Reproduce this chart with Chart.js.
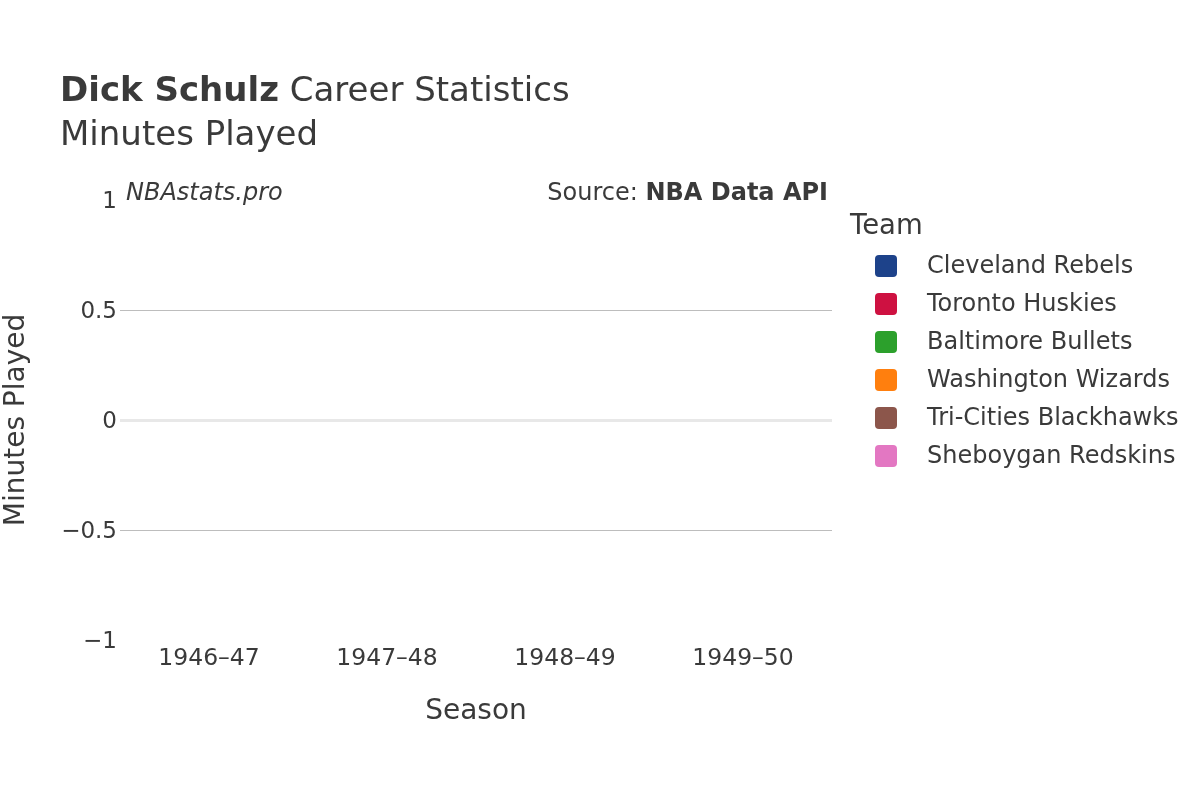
<!DOCTYPE html>
<html>
<head>
<meta charset="utf-8">
<script src="https://cdn.jsdelivr.net/npm/chart.js@4"></script>
<style>
  html, body { margin: 0; padding: 0; background: #fff; }
  #wrap { width: 1200px; height: 800px; }
</style>
</head>
<body>
<div id="wrap"><canvas id="c" width="1200" height="800"></canvas></div>
<script>
const seasons = ["1946\u201347", "1947\u201348", "1948\u201349", "1949\u201350"];
const teams = ["Cleveland Rebels", "Toronto Huskies", "Baltimore Bullets", "Washington Wizards", "Tri-Cities Blackhawks", "Sheboygan Redskins"];
const teamColors = ["#1d428a", "#ce1141", "#2ca02c", "#ff7f0e", "#8c564b", "#e377c2"];
const clevelandRebels = [0, null, null, null];
const torontoHuskies = [0, null, null, null];
const baltimoreBullets = [null, 0, null, null];
const washingtonWizards = [null, null, 0, null];
const triCitiesBlackhawks = [null, null, null, 0];
const sheboyganRedskins = [null, null, null, 0];
const seriesValues = [clevelandRebels, torontoHuskies, baltimoreBullets, washingtonWizards, triCitiesBlackhawks, sheboyganRedskins];
const yTicks = [-1, -0.5, 0, 0.5, 1];

const FONT = "'DejaVu Sans', sans-serif";
const TXT = "#3a3a3a";

const textPlugin = {
  id: 'texts',
  afterDraw(chart) {
    const ctx = chart.ctx;
    const area = chart.chartArea;
    ctx.save();
    ctx.fillStyle = TXT;
    ctx.textBaseline = 'alphabetic';
    ctx.textAlign = 'left';
    // Title
    ctx.font = "bold 34px " + FONT;
    const t1 = "Dick Schulz";
    ctx.fillText(t1, 60, 101);
    const w1 = ctx.measureText(t1).width;
    ctx.font = "34px " + FONT;
    ctx.fillText(" Career Statistics", 60 + w1, 101);
    ctx.fillText("Minutes Played", 60, 145);
    // watermark
    ctx.font = "italic 24px " + FONT;
    ctx.fillText("NBAstats.pro", 126, 200);
    // source
    ctx.textAlign = 'right';
    ctx.font = "bold 24px " + FONT;
    const sb = "NBA Data API";
    ctx.fillText(sb, 828, 200);
    const wsb = ctx.measureText(sb).width;
    ctx.font = "24px " + FONT;
    ctx.fillText("Source: ", 828 - wsb, 200);
    // axis titles
    ctx.textAlign = 'center';
    ctx.textBaseline = 'middle';
    ctx.font = "28px " + FONT;
    ctx.fillText("Season", (area.left + area.right) / 2, 712);
    ctx.save();
    ctx.translate(17, (area.top + area.bottom) / 2);
    ctx.rotate(-Math.PI / 2);
    ctx.fillText("Minutes Played", 0, 0);
    ctx.restore();
    // legend
    ctx.textAlign = 'left';
    ctx.textBaseline = 'middle';
    ctx.font = "27.5px " + FONT;
    ctx.fillText("Team", 850, 227);
    ctx.font = "24px " + FONT;
    chart.data.datasets.forEach((ds, i) => {
      const y = 266 + i * 38;
      ctx.fillStyle = ds.backgroundColor;
      ctx.beginPath();
      ctx.roundRect(875, y - 11, 22, 22, 4);
      ctx.fill();
      ctx.fillStyle = TXT;
      ctx.fillText(ds.label, 927, y + 1);
    });
    ctx.restore();
  }
};

new Chart(document.getElementById('c'), {
  type: 'bar',
  data: {
    labels: seasons,
    datasets: teams.map((t, i) => ({
      label: t,
      data: seriesValues[i],
      backgroundColor: teamColors[i],
      borderWidth: 0,
      skipNull: true
    }))
  },
  options: {
    responsive: false,
    animation: false,
    devicePixelRatio: 1,
    layout: { padding: { left: 0, right: 368, top: 200, bottom: 120 } },
    plugins: { legend: { display: false }, tooltip: { enabled: false }, title: { display: false } },
    scales: {
      x: {
        grid: { display: false, drawTicks: false },
        border: { display: false },
        ticks: { color: TXT, font: { family: FONT, size: 23.5 }, padding: 5, maxRotation: 0 },
        afterFit(s) { s.height = 40; }
      },
      y: {
        min: -1, max: 1,
        afterBuildTicks(s) { s.ticks = yTicks.map(v => ({ value: v })); },
        grid: {
          drawTicks: false,
          color(ctx) {
            const v = ctx.tick ? ctx.tick.value : null;
            if (v === 0) return '#e8e8e8';
            if (v === 1 || v === -1) return 'rgba(0,0,0,0)';
            return '#bdbdbd';
          },
          lineWidth(ctx) { return ctx.tick && ctx.tick.value === 0 ? 3 : 1; }
        },
        border: { display: false },
        ticks: {
          color: TXT, font: { family: FONT, size: 23 }, padding: 3, labelOffset: 2,
          callback(v) { return String(v).replace('-', '\u2212'); }
        },
        afterFit(s) { s.width = 120; }
      }
    }
  },
  plugins: [textPlugin]
});
</script>
</body>
</html>
